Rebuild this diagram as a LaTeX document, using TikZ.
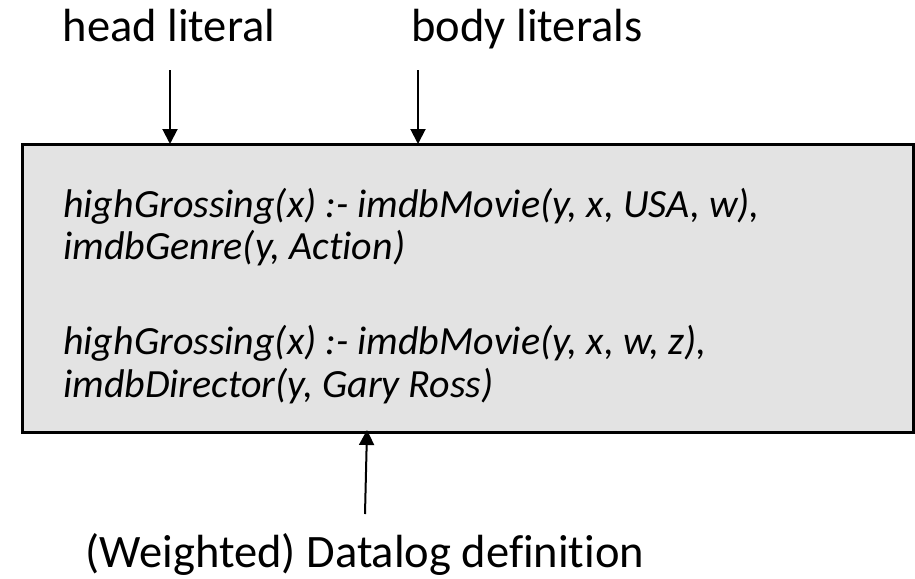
\documentclass[tikz,border=0pt]{standalone}
\usepackage{fontspec}
\setmainfont{Carlito}[Ligatures={NoCommon,NoRare,NoContextual}]
\usetikzlibrary{arrows.meta}
\definecolor{boxfill}{RGB}{227,227,227}
\tikzset{
  every picture/.style={x=1pt,y=-1pt},
  caption/.style={inner sep=0pt,anchor=base,font=\fontsize{46.5}{56}\selectfont},
  rule/.style={inner sep=0pt,anchor=base west,font=\fontsize{40}{48}\selectfont\itshape},
  pointer/.style={line width=2pt,-{Triangle[width=15pt,length=15pt]}},
  rulebox/.style={draw=black,line width=3pt,fill=boxfill}
}
\begin{document}
\begin{tikzpicture}
\useasboundingbox (0,0) rectangle (915,578);

% the definition box
\draw[rulebox] (22,144) rectangle (913,432);
\coordinate (boxtop) at (22,144);
\coordinate (boxbot) at (22,432);

% the two rules
\node[rule] (r1a) at (63,217) {highGrossing(x) :- imdbMovie(y, x, USA, w),};
\node[rule] (r1b) at (63,259) {imdbGenre(y, Action)};
\node[rule] (r2a) at (63,354) {highGrossing(x) :- imdbMovie(y, x, w, z),};
\node[rule] (r2b) at (63,397) {imdbDirector(y, Gary Ross)};

% captions
\node[caption] (head) at (169,42) {head literal};
\node[caption] (body) at (527,42) {body literals};
\node[caption] (defn) at (365,567) {(Weighted) Datalog definition};

% pointers
\coordinate (headtail) at (170,70);
\coordinate (bodytail) at (418,70);
\coordinate (defntail) at (365,514);
\draw[pointer] (headtail) -- (headtail |- boxtop);
\draw[pointer] (bodytail) -- (bodytail |- boxtop);
\draw[pointer] (defntail) -- ([xshift=2pt,yshift=2pt]defntail |- boxbot);
\end{tikzpicture}
\end{document}
